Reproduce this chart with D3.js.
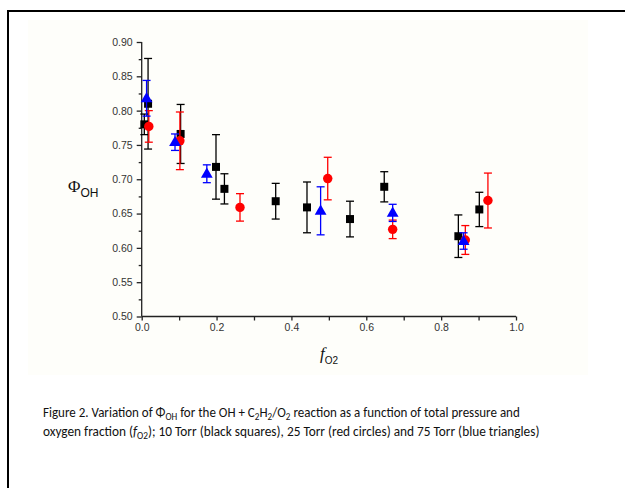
<!DOCTYPE html>
<html>
<head>
<meta charset="utf-8">
<script src="https://cdn.jsdelivr.net/npm/d3@7"></script>
<style>
  html, body { margin: 0; padding: 0; background: #fff; }
  svg { display: block; }
</style>
</head>
<body>
<svg id="chart" width="625" height="488"></svg>
<script>
// ---- data ----
const blackX   = [0.007, 0.017, 0.104, 0.1985, 0.221, 0.358, 0.4416, 0.5565, 0.648, 0.846, 0.902];
const blackY   = [0.780, 0.810, 0.766, 0.718, 0.686, 0.668, 0.659, 0.642, 0.689, 0.617, 0.656];
const blackErr = [0.015, 0.066, 0.043, 0.047, 0.022, 0.026, 0.037, 0.026, 0.022, 0.031, 0.025];

const redX   = [0.019, 0.102, 0.2626, 0.497, 0.6705, 0.8646, 0.925];
const redY   = [0.777, 0.756, 0.659, 0.701, 0.627, 0.6115, 0.669];
const redErr = [0.023, 0.042, 0.020, 0.031, 0.0135, 0.021, 0.040];

const blueX   = [0.013, 0.089, 0.174, 0.478, 0.6705, 0.860];
const blueY   = [0.818, 0.754, 0.708, 0.654, 0.651, 0.610];
const blueErr = [0.026, 0.012, 0.013, 0.035, 0.0125, 0.012];

const xTicks = [0, 0.2, 0.4, 0.6, 0.8, 1.0];
const yTicks = [0.50, 0.55, 0.60, 0.65, 0.70, 0.75, 0.80, 0.85, 0.90];

// ---- drawing ----
const svg = d3.select("#chart");

// frame box
svg.append("rect").attr("x", 8).attr("y", 11).attr("width", 640).attr("height", 500)
  .attr("fill", "#fff").attr("stroke", "#000").attr("stroke-width", 2);
// faint cream image background
svg.append("rect").attr("x", 28).attr("y", 20).attr("width", 560).attr("height", 355)
  .attr("fill", "#fefefa");

const x = d3.scaleLinear().domain([0, 1]).range([141.7, 516]);
const y = d3.scaleLinear().domain([0.5, 0.9]).range([316.5, 42]);

const axisColor = "#222";
const tickFont = "Liberation Sans, Arial, sans-serif";

// Y axis
const yAxis = svg.append("g").attr("transform", `translate(${x(0)},0)`)
  .call(d3.axisLeft(y).tickValues(yTicks).tickFormat(d3.format(".2f")).tickSize(5).tickPadding(4));
const yMinor = svg.append("g").attr("transform", `translate(${x(0)},0)`)
  .call(d3.axisLeft(y).tickValues(d3.range(0.525, 0.9, 0.05)).tickFormat("").tickSize(3));
yMinor.select(".domain").remove();

// X axis
const xAxis = svg.append("g").attr("transform", `translate(0,${y(0.5)})`)
  .call(d3.axisBottom(x).tickValues(xTicks).tickFormat(d3.format(".1f")).tickSize(4).tickPadding(3));
const xMinor = svg.append("g").attr("transform", `translate(0,${y(0.5)})`)
  .call(d3.axisBottom(x).tickValues([0.1, 0.3, 0.5, 0.7, 0.9]).tickFormat("").tickSize(4));
xMinor.select(".domain").remove();

[yAxis, yMinor, xAxis, xMinor].forEach(g => {
  g.selectAll("path, line").attr("stroke", axisColor).attr("stroke-width", 1.3);
  g.selectAll("text").attr("fill", "#333").style("font-family", tickFont).style("font-size", "10.5px");
});
yAxis.select(".domain").attr("d", `M0,${y(0.5)}V${y(0.9)}`);
xAxis.select(".domain").attr("d", `M${x(0)},0H${x(1)}`);

// axis titles
const yTitle = svg.append("text").attr("x", 68).attr("y", 192)
  .style("font-family", "Liberation Serif, Times New Roman, serif").style("font-size", "17px").attr("fill", "#111");
yTitle.append("tspan").text("Φ");
yTitle.append("tspan").attr("dy", 5).style("font-family", tickFont).style("font-size", "12px").text("OH");

const xTitle = svg.append("text").attr("x", 320).attr("y", 359)
  .style("font-family", "Liberation Serif, Times New Roman, serif").style("font-size", "17px").attr("fill", "#111");
xTitle.append("tspan").style("font-style", "italic").text("f");
xTitle.append("tspan").attr("dy", 5).style("font-family", tickFont).style("font-size", "10px").text("O2");

// series
const series = [
  {xs: blackX, ys: blackY, es: blackErr, color: "#000", shape: "square"},
  {xs: redX, ys: redY, es: redErr, color: "#ff0000", shape: "circle"},
  {xs: blueX, ys: blueY, es: blueErr, color: "#0000ff", shape: "triangle"}
];

series.forEach(s => {
  const data = s.xs.map((v, i) => ({x: v, y: s.ys[i], e: s.es[i]}));
  const g = svg.append("g");
  const eb = g.selectAll(".eb").data(data).enter().append("g");
  eb.append("line").attr("x1", d => x(d.x)).attr("x2", d => x(d.x))
    .attr("y1", d => y(d.y + d.e)).attr("y2", d => y(d.y - d.e))
    .attr("stroke", s.color).attr("stroke-width", 1.3);
  eb.append("line").attr("x1", d => x(d.x) - 4).attr("x2", d => x(d.x) + 4)
    .attr("y1", d => y(d.y + d.e)).attr("y2", d => y(d.y + d.e))
    .attr("stroke", s.color).attr("stroke-width", 1.3);
  eb.append("line").attr("x1", d => x(d.x) - 4).attr("x2", d => x(d.x) + 4)
    .attr("y1", d => y(d.y - d.e)).attr("y2", d => y(d.y - d.e))
    .attr("stroke", s.color).attr("stroke-width", 1.3);
  let sym;
  if (s.shape === "square") sym = d3.symbol().type(d3.symbolSquare).size(64);
  else if (s.shape === "circle") sym = d3.symbol().type(d3.symbolCircle).size(70);
  else sym = d3.symbol().type(d3.symbolTriangle).size(60);
  g.selectAll(".m").data(data).enter().append("path")
    .attr("d", sym)
    .attr("transform", d => `translate(${x(d.x)},${y(d.y) + (s.shape === "triangle" ? 0.5 : 0)})`)
    .attr("fill", s.color);
});

// caption (fitted to the reference width by a horizontal scale)
const capFont = "Carlito, Lato, 'Open Sans', sans-serif";
function captionLine(yPos, width, parts) {
  const g = svg.append("g");
  const t = g.append("text").attr("x", 0).attr("y", 0)
    .style("font-family", capFont).style("font-size", "13.5px").attr("fill", "#111");
  parts.forEach(p => {
    const ts = t.append("tspan").text(p.t);
    if (p.sub) ts.attr("dy", 3).style("font-size", "9.5px");
    if (p.back) ts.attr("dy", -3);
    if (p.it) ts.style("font-style", "italic");
  });
  const w = t.node().getComputedTextLength();
  g.attr("transform", `translate(43,${yPos}) scale(${width / w},1)`);
}
captionLine(417, 477, [
  {t: "Figure 2. Variation of Φ"}, {t: "OH", sub: true},
  {t: " for the OH + C", back: true}, {t: "2", sub: true},
  {t: "H", back: true}, {t: "2", sub: true},
  {t: "/O", back: true}, {t: "2", sub: true},
  {t: " reaction as a function of total pressure and", back: true}
]);
captionLine(436, 497, [
  {t: "oxygen fraction ("}, {t: "f", it: true}, {t: "O2", sub: true},
  {t: "); 10 Torr (black squares), 25 Torr (red circles) and 75 Torr (blue triangles)", back: true}
]);
</script>
</body>
</html>
